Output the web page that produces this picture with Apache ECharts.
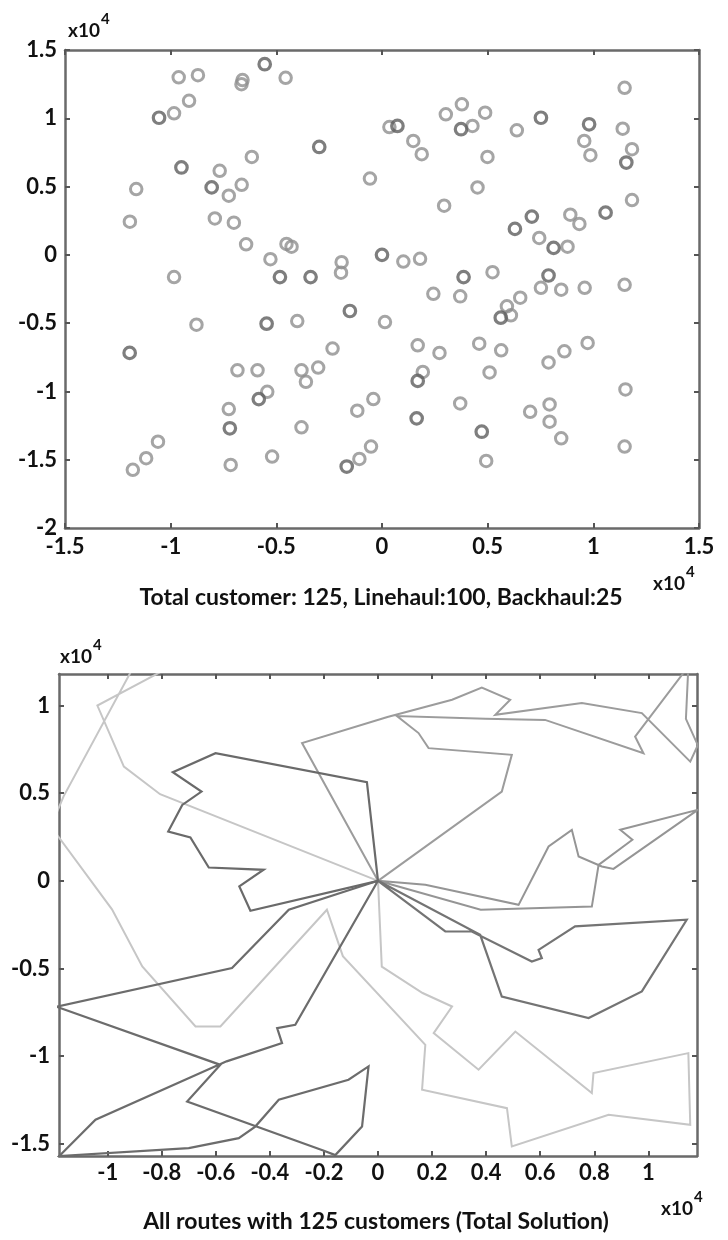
<!DOCTYPE html>
<html>
<head>
<meta charset="utf-8">
<script src="https://cdn.jsdelivr.net/npm/echarts@6/dist/echarts.min.js"></script>
<style>
html,body{margin:0;padding:0;background:#fff;}
#c{width:728px;height:1240px;}
</style>
</head>
<body>
<div id="c"></div>
<script>
// ---------- Top chart: customer locations (x10^4) ----------
const topXTicks = [-1.5, -1, -0.5, 0, 0.5, 1, 1.5];
const topYTicks = [-2, -1.5, -1, -0.5, 0, 0.5, 1, 1.5];

const customersLight = [
  [-0.962,1.30],[-0.871,1.316],[-0.66,1.28],[-0.665,1.25],[-0.456,1.296],[-0.913,1.128],[-0.984,1.036],
  [-0.768,0.615],[-0.616,0.717],[-0.664,0.513],[-0.725,0.433],[-1.163,0.482],[-0.057,0.559],[-1.193,0.243],
  [-0.791,0.267],[-0.701,0.236],[-0.643,0.077],[-0.452,0.08],[-0.428,0.06],[-0.528,-0.032],[-0.191,-0.054],
  [-0.194,-0.131],[-0.984,-0.163],
  [1.148,1.223],[0.035,0.936],[0.378,1.102],[0.302,1.029],[0.488,1.041],[0.428,0.944],[0.638,0.912],
  [1.139,0.924],[0.148,0.834],[0.188,0.737],[0.499,0.717],[0.957,0.834],[0.986,0.73],[1.183,0.774],
  [0.452,0.494],[0.294,0.36],[0.891,0.294],[0.934,0.226],[1.183,0.401],[0.744,0.124],[0.878,0.06],
  [0.101,-0.049],[0.18,-0.029],[0.523,-0.127],[1.148,-0.219],
  [0.243,-0.285],[0.37,-0.304],[0.014,-0.492],[0.591,-0.377],[0.654,-0.314],[0.752,-0.241],[0.848,-0.255],
  [0.959,-0.241],[0.61,-0.443],[0.169,-0.662],[0.272,-0.718],[0.46,-0.65],[0.564,-0.699],[0.788,-0.788],
  [0.863,-0.706],[0.973,-0.645],[0.193,-0.857],[0.509,-0.861],[1.152,-0.985],[0.37,-1.088],[0.701,-1.149],
  [0.793,-1.095],[0.793,-1.222],[0.848,-1.343],[1.148,-1.404],[0.493,-1.509],
  [-0.878,-0.511],[-0.401,-0.485],[-0.234,-0.686],[-0.684,-0.845],[-0.589,-0.845],[-0.381,-0.845],
  [-0.302,-0.825],[-0.36,-0.93],[-0.543,-1.003],[-0.725,-1.129],[-0.381,-1.263],[-0.117,-1.141],
  [-0.041,-1.056],[-1.06,-1.368],[-1.116,-1.489],[-1.179,-1.574],[-0.716,-1.538],[-0.52,-1.477],
  [-0.107,-1.494],[-0.052,-1.404]
];
const customersDark = [
  [-0.555,1.396],[-1.055,1.004],[-0.297,0.79],[-0.949,0.64],[-0.806,0.494],[0,0],[-0.483,-0.163],
  [-0.338,-0.163],[0.073,0.944],[0.374,0.92],[0.752,1.004],[0.98,0.956],[1.156,0.676],[0.709,0.28],
  [0.629,0.19],[1.058,0.309],[0.812,0.051],[0.386,-0.163],[0.788,-0.151],[0.562,-0.46],[0.169,-0.923],
  [0.164,-1.197],[0.472,-1.295],[-0.546,-0.504],[-0.152,-0.411],[-1.194,-0.718],[-0.583,-1.056],
  [-0.72,-1.27],[-0.167,-1.55]
];

// ---------- Bottom chart: routes (x10^4) ----------
const botXTicks = [-1, -0.8, -0.6, -0.4, -0.2, 0, 0.2, 0.4, 0.6, 0.8, 1];
const botYTicks = [-1.5, -1, -0.5, 0, 0.5, 1];

const routeLight = [
  [0,0],[-0.806,0.494],[-0.94,0.652],[-1.038,1.0],[-0.555,1.396],[-0.456,1.296],[-0.665,1.25],
  [-0.66,1.28],[-0.962,1.30],[-0.871,1.316],[-1.163,0.482],[-1.21,0.31],[-0.984,-0.163],
  [-0.872,-0.489],[-0.675,-0.831],[-0.583,-0.831],[-0.189,-0.165],[-0.13,-0.43],[0.175,-0.936],
  [0.163,-1.192],[0.477,-1.297],[0.495,-1.516],[0.853,-1.335],[1.155,-1.392],[1.148,-0.983],
  [0.797,-1.097],[0.791,-1.211],[0.508,-0.86],[0.372,-1.078],[0.206,-0.869],[0.274,-0.717],
  [0.165,-0.64],[0.014,-0.49],[0,0]
];
const routeBird = [
  [0,0],[-0.041,0.563],[-0.601,0.728],[-0.759,0.62],[-0.653,0.509],[-0.724,0.433],[-0.776,0.281],
  [-0.694,0.247],[-0.626,0.076],[-0.423,0.063],[-0.513,-0.032],[-0.472,-0.171],[0,0]
];
const routeNorth = [
  [0,0],[0.458,0.509],[0.495,0.719],[0.187,0.757],[0.15,0.843],[0.07,0.94],[0.397,0.925],
  [0.618,0.918],[0.982,0.728],[0.951,0.823],[1.148,1.223],[1.139,0.924],[1.183,0.774],[1.155,0.68],
  [0.976,0.957],[0.754,1.014],[0.434,0.947],[0.489,1.033],[0.384,1.103],[0.274,1.033],
  [0.035,0.935],[-0.281,0.786],[0,0]
];
const routeEast = [
  [0,0],[0.175,-0.023],[0.52,-0.137],[0.631,0.196],[0.717,0.291],[0.742,0.139],[0.828,0.082],
  [0.871,0.068],[1.183,0.405],[0.896,0.291],[0.941,0.234],[0.816,0.091],[0.791,-0.147],
  [0.38,-0.165],[0,0]
];
const routeSouthEast = [
  [0,0],[0.249,-0.289],[0.347,-0.289],[0.569,-0.46],[0.606,-0.441],[0.594,-0.394],[0.729,-0.26],
  [1.142,-0.222],[0.976,-0.631],[0.779,-0.783],[0.458,-0.66],[0.378,-0.308],[0,0]
];
const routeSouthWest = [
  [0,0],[-0.33,-0.165],[-0.54,-0.498],[-1.19,-0.718],[-0.583,-1.05],[-0.706,-1.259],[-0.2,-1.54],
  [-0.158,-1.565],[-0.059,-1.402],[-0.035,-1.059],[-0.109,-1.135],[-0.367,-1.249],[-0.454,-1.402],
  [-0.515,-1.468],[-0.7,-1.525],[-1.179,-1.57],[-1.045,-1.363],[-0.56,-1.03],[-0.355,-0.926],
  [-0.373,-0.84],[-0.306,-0.821],[0,0]
];

const FONT = 'Lato, "Open Sans", sans-serif';
const labelStyle = {fontFamily: FONT, fontWeight: 'bold', fontSize: 22, color: '#111'};
const frameLine = {show: true, onZero: false, lineStyle: {color: '#6a6a6a', width: 2.5}};
const tickIn = {show: true, inside: true, length: 5, lineStyle: {color: '#555', width: 2}};
const fmt = v => String(+(+v).toFixed(2));

function axisPair(grid, min, max, interval, ticks, isX) {
  const main = {
    type: 'value', gridIndex: grid, min, max,
    position: isX ? 'bottom' : 'left',
    axisLine: frameLine, splitLine: {show: false},
    axisTick: Object.assign({}, tickIn),
    axisLabel: Object.assign({margin: isX ? 8 : 8, formatter: fmt}, labelStyle)
  };
  const other = {
    type: 'value', gridIndex: grid, min, max,
    position: isX ? 'top' : 'right',
    axisLine: frameLine, splitLine: {show: false},
    axisTick: Object.assign({}, tickIn),
    axisLabel: {show: false}
  };
  if (interval) { main.interval = interval; other.interval = interval; }
  else {
    main.axisTick.customValues = ticks; main.axisLabel.customValues = ticks;
    other.axisTick.customValues = ticks; other.axisLabel.customValues = ticks;
  }
  return [main, other];
}

const xAxes = [].concat(
  axisPair(0, -1.5, 1.5, 0.5, topXTicks, true),
  axisPair(1, -1.18, 1.18, null, botXTicks, true)
);
const yAxes = [].concat(
  axisPair(0, -2, 1.5, 0.5, topYTicks, false),
  axisPair(1, -1.57, 1.18, null, botYTicks, false)
);
xAxes[2].axisLabel.margin = 6;
yAxes[2].axisLabel.margin = 9;

function routeSeries(data, color, width) {
  return {
    type: 'line', xAxisIndex: 2, yAxisIndex: 2, data,
    showSymbol: false, symbol: 'none', clip: true, animation: false,
    lineStyle: {color, width, join: 'miter'}
  };
}

const mctx = document.createElement('canvas').getContext('2d');
function txt(text, x, y, size, align) {
  return {type: 'text', x, y, style: {text, fill: '#111', font: 'bold ' + size + 'px ' + FONT,
    textAlign: align || 'left', textVerticalAlign: 'middle'}};
}
function expLabel(x, y) {
  const f = 'bold 19px ' + FONT;
  mctx.font = f;
  const w = mctx.measureText('x10').width;
  return [txt('x10', x, y, 19), txt('4', x + w + 1, y - 12, 15)];
}

const option = {
  backgroundColor: '#fff',
  animation: false,
  grid: [
    {left: 65, top: 50, width: 634, height: 478},
    {left: 59, top: 674, width: 638, height: 482}
  ],
  xAxis: xAxes,
  yAxis: yAxes,
  series: [
    {type: 'scatter', xAxisIndex: 0, yAxisIndex: 0, data: customersLight, symbol: 'circle', symbolSize: 11.5,
     itemStyle: {color: 'rgba(0,0,0,0)', borderColor: '#8e8e8e', borderWidth: 3}},
    {type: 'scatter', xAxisIndex: 0, yAxisIndex: 0, data: customersDark, symbol: 'circle', symbolSize: 11.5,
     itemStyle: {color: 'rgba(0,0,0,0)', borderColor: '#5e5e5e', borderWidth: 3.2}},
    routeSeries(routeLight, '#c6c6c6', 2),
    routeSeries(routeNorth, '#9c9c9c', 2),
    routeSeries(routeEast, '#959595', 2),
    routeSeries(routeSouthEast, '#747474', 2.2),
    routeSeries(routeSouthWest, '#6c6c6c', 2.2),
    routeSeries(routeBird, '#6a6a6a', 2.2)
  ],
  graphic: [].concat(
    expLabel(68, 31),
    expLabel(653, 584),
    [txt('Total customer: 125, Linehaul:100, Backhaul:25', 381, 598, 23, 'center')],
    expLabel(60, 657),
    expLabel(661, 1209),
    [txt('All routes with 125 customers (Total Solution)', 376, 1222, 23, 'center')]
  )
};

const chart = echarts.init(document.getElementById('c'), null, {renderer: 'canvas', width: 728, height: 1240});
chart.setOption(option);
</script>
</body>
</html>
